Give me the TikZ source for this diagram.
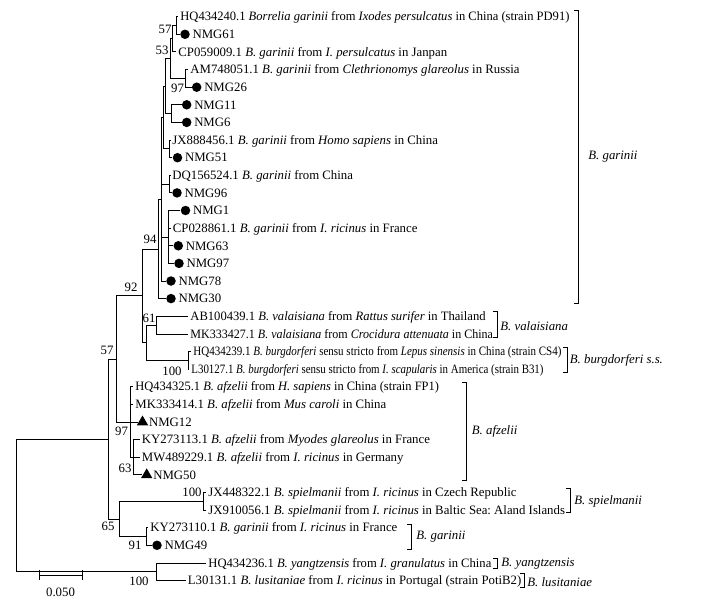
\documentclass[tikz,border=0pt]{standalone}
\usepackage{fontspec}
\usepackage{graphicx}
\setmainfont{Liberation Serif}
\frenchspacing
\usetikzlibrary{positioning,shapes.geometric}
\begin{document}
\begin{tikzpicture}[
    x=1bp, y=-1bp, line width=0.8bp,
    leaf/.style={anchor=west, inner xsep=2bp, inner ysep=0pt, text height=8.5bp, text depth=0pt, font=\fontsize{12.8bp}{15bp}\selectfont},
    dot/.style={circle, fill, inner sep=0pt, minimum size=9.5bp},
    tri/.style={regular polygon, regular polygon sides=3, fill, inner sep=0pt, minimum size=13bp},
    boot/.style={inner sep=0pt, font=\fontsize{12.8bp}{15bp}\selectfont},
    clade/.style={anchor=west, inner sep=0pt, font=\fontsize{12.8bp}{15bp}\selectfont\itshape}
]
    \useasboundingbox (0,0) rectangle (727,602);

    % Leaves
    \node[leaf] (l1) at (178,16.7) {\scalebox{0.98}[1]{HQ434240.1 \textit{Borrelia garinii} from \textit{Ixodes persulcatus} in China (strain PD91)}};
    \node[dot] (m2) at (185,34.3) {};
    \node[leaf, right=0pt of m2] (l2) {NMG61};
    \node[leaf] (l3) at (176,51.9) {CP059009.1 \textit{B. garinii} from \textit{I. persulcatus} in Janpan};
    \node[leaf] (l4) at (188,69.6) {AM748051.1 \textit{B. garinii} from \textit{Clethrionomys glareolus} in Russia};
    \node[dot] (m5) at (196.7,87.2) {};
    \node[leaf, right=0pt of m5] (l5) {NMG26};
    \node[dot] (m6) at (186.7,104.8) {};
    \node[leaf, right=0pt of m6] (l6) {NMG11};
    \node[dot] (m7) at (186.7,122.4) {};
    \node[leaf, right=0pt of m7] (l7) {NMG6};
    \node[leaf] (l8) at (170,140.0) {JX888456.1 \textit{B. garinii} from \textit{Homo sapiens} in China};
    \node[dot] (m9) at (177.5,157.7) {};
    \node[leaf, right=0pt of m9] (l9) {NMG51};
    \node[leaf] (l10) at (170,175.3) {DQ156524.1 \textit{B. garinii} from China};
    \node[dot] (m11) at (177,192.9) {};
    \node[leaf, right=0pt of m11] (l11) {NMG96};
    \node[dot] (m12) at (185.5,210.5) {};
    \node[leaf, right=0pt of m12] (l12) {NMG1};
    \node[leaf] (l13) at (170.5,228.1) {CP028861.1 \textit{B. garinii} from \textit{I. ricinus} in France};
    \node[dot] (m14) at (178.3,245.8) {};
    \node[leaf, right=0pt of m14] (l14) {NMG63};
    \node[dot] (m15) at (179,263.4) {};
    \node[leaf, right=0pt of m15] (l15) {NMG97};
    \node[dot] (m16) at (171,281.0) {};
    \node[leaf, right=0pt of m16] (l16) {NMG78};
    \node[dot] (m17) at (171,298.6) {};
    \node[leaf, right=0pt of m17] (l17) {NMG30};
    \node[leaf] (l18) at (188,316.2) {\scalebox{0.985}[1]{AB100439.1 \textit{B. valaisiana} from \textit{Rattus surifer} in Thailand}};
    \node[leaf] (l19) at (188,333.9) {\scalebox{0.94}[1]{MK333427.1 \textit{B. valaisiana} from \textit{Crocidura attenuata} in China}};
    \node[leaf] (l20) at (191,351.5) {\scalebox{0.86}[1]{HQ434239.1 \textit{B. burgdorferi} sensu stricto from \textit{Lepus sinensis} in China (strain CS4)}};
    \node[leaf] (l21) at (189,369.1) {\scalebox{0.852}[1]{L30127.1 \textit{B. burgdorferi} sensu stricto from \textit{I. scapularis} in America (strain B31)}};
    \node[leaf] (l22) at (133,386.7) {\scalebox{0.975}[1]{HQ434325.1 \textit{B. afzelii} from \textit{H. sapiens} in China (strain FP1)}};
    \node[leaf] (l23) at (133,404.3) {MK333414.1 \textit{B. afzelii} from \textit{Mus caroli} in China};
    \node[tri] (m24) at (142.5,422.0) {};
    \node[leaf, right=0pt of m24] (l24) {NMG12};
    \node[leaf] (l25) at (139.5,439.6) {KY273113.1 \textit{B. afzelii} from \textit{Myodes glareolus} in France};
    \node[leaf] (l26) at (139.5,457.2) {MW489229.1 \textit{B. afzelii} from \textit{I. ricinus} in Germany};
    \node[tri] (m27) at (146.7,474.8) {};
    \node[leaf, right=0pt of m27] (l27) {NMG50};
    \node[leaf] (l28) at (206,492.4) {JX448322.1 \textit{B. spielmanii} from \textit{I. ricinus} in Czech Republic};
    \node[leaf] (l29) at (206,510.0) {JX910056.1 \textit{B. spielmanii} from \textit{I. ricinus} in Baltic Sea: Aland Islands};
    \node[leaf] (l30) at (148,527.7) {KY273110.1 \textit{B. garinii} from \textit{I. ricinus} in France};
    \node[dot] (m31) at (157,545.3) {};
    \node[leaf, right=0pt of m31] (l31) {NMG49};
    \node[leaf] (l32) at (206,562.9) {\scalebox{0.985}[1]{HQ434236.1 \textit{B. yangtzensis} from \textit{I. granulatus} in China}};
    \node[leaf] (l33) at (185.5,580.5) {L30131.1 \textit{B. lusitaniae} from \textit{I. ricinus} in Portugal (strain PotiB2)};

    % Internal nodes
    \coordinate (n57) at (176,25.5);
    \coordinate (n53) at (172.7,38.7);
    \coordinate (n97g) at (185.5,78.4);
    \coordinate (na) at (170.3,58.5);
    \coordinate (n116) at (171.7,113.6);
    \coordinate (nb) at (165.5,86);
    \coordinate (njx) at (169.5,148.9);
    \coordinate (nc) at (163.3,117.4);
    \coordinate (ndq) at (169.5,184.1);
    \coordinate (ncp) at (168.3,237);
    \coordinate (nd) at (161,199.2);
    \coordinate (n94) at (158.3,248.9);
    \coordinate (n61) at (156.7,325);
    \coordinate (nbs) at (188,360.3);
    \coordinate (nvb) at (146.7,342.7);
    \coordinate (n92) at (142.7,295.8);
    \coordinate (n63) at (133.3,457.2);
    \coordinate (n97a) at (130,421.9);
    \coordinate (n57b) at (116,358.9);
    \coordinate (nsp) at (203.3,501.2);
    \coordinate (n91) at (146.7,536.5);
    \coordinate (n65) at (119.3,518.9);
    \coordinate (n108) at (108,438.9);
    \coordinate (ny) at (156.7,571.7);
    \coordinate (root) at (16,505.3);

    % Branches
    \draw (n57) |- (l1); \draw (n57) |- (m2);
    \draw (n53) |- (n57); \draw (n53) |- (l3);
    \draw (n97g) |- (l4); \draw (n97g) |- (m5);
    \draw (na) |- (n53); \draw (na) |- (n97g);
    \draw (n116) |- (m6); \draw (n116) |- (m7);
    \draw (nb) |- (na); \draw (nb) |- (n116);
    \draw (njx) |- (l8); \draw (njx) |- (m9);
    \draw (nc) |- (nb); \draw (nc) |- (njx);
    \draw (ndq) |- (l10); \draw (ndq) |- (m11);
    \draw (ncp) |- (m12); \draw (ncp) |- (l13); \draw (ncp) |- (m14); \draw (ncp) |- (m15);
    \draw (nd) |- (nc); \draw (nd) |- (ndq); \draw (nd) |- (ncp); \draw (nd) |- (m16);
    \draw (n94) |- (nd); \draw (n94) |- (m17);
    \draw (n61) |- (l18); \draw (n61) |- (l19);
    \draw (nbs) |- (l20); \draw (nbs) |- (l21);
    \draw (nvb) |- (n61); \draw (nvb) |- (nbs);
    \draw (n92) |- (n94); \draw (n92) |- (nvb);
    \draw (n63) |- (l25); \draw (n63) |- (l26); \draw (n63) |- (m27);
    \draw (n97a) |- (l22); \draw (n97a) |- (l23); \draw (n97a) |- (m24); \draw (n97a) |- (n63);
    \draw (n57b) |- (n92); \draw (n57b) |- (n97a);
    \draw (nsp) |- (l28); \draw (nsp) |- (l29);
    \draw (n91) |- (l30); \draw (n91) |- (m31);
    \draw (n65) |- (nsp); \draw (n65) |- (n91);
    \draw (n108) |- (n57b); \draw (n108) |- (n65);
    \draw (ny) |- (l32); \draw (ny) |- (l33);
    \draw (root) |- (n108); \draw (root) |- (ny);

    % Bootstrap values
    \node[boot] (b1) at (165,29) {57};
    \node[boot] (b2) at (162,50) {53};
    \node[boot] (b3) at (177.5,88) {97};
    \node[boot] (b4) at (150,239) {94};
    \node[boot] (b5) at (131,287) {92};
    \node[boot] (b6) at (149,318) {61};
    \node[boot] (b7) at (172,371) {100};
    \node[boot] (b8) at (107,350) {57};
    \node[boot] (b9) at (121.5,431) {97};
    \node[boot] (b10) at (125,468) {63};
    \node[boot] (b11) at (108,526) {65};
    \node[boot] (b12) at (192,492.5) {100};
    \node[boot] (b13) at (135,545) {91};
    \node[boot] (b14) at (139,581) {100};

    % Clade brackets
    \draw (574,10) -- (578,10) -- (578,303) -- (574,303);
    \node[clade] (c1) at (588,157) {B. garinii};
    \draw (493,311) -- (497,311) -- (497,337) -- (493,337);
    \node[clade] (c2) at (500,326) {B. valaisiana};
    \draw (563,347) -- (567,347) -- (567,372) -- (563,372);
    \node[clade] (c3) at (569.5,360) {B. burgdorferi s.s.};
    \draw (462,382) -- (466,382) -- (466,480) -- (462,480);
    \node[clade] (c4) at (471.5,431) {B. afzelii};
    \draw (566,488) -- (570,488) -- (570,512) -- (566,512);
    \node[clade] (c5) at (574,501) {B. spielmanii};
    \draw (407,524) -- (411,524) -- (411,549) -- (407,549);
    \node[clade] (c6) at (416,537) {B. garinii};
    \draw (493,558) -- (497,558) -- (497,568) -- (493,568);
    \node[clade] (c7) at (501,564) {B. yangtzensis};
    \draw (520,573) -- (524,573) -- (524,587) -- (520,587);
    \node[clade] (c8) at (527,582) {B. lusitaniae};

    % Scale bar
    \coordinate (s0) at (39,575);
    \coordinate (s1) at (82,575);
    \draw (s0) -- (s1);
    \draw ([yshift=5bp]s0) -- ([yshift=-5bp]s0);
    \draw ([yshift=5bp]s1) -- ([yshift=-5bp]s1);
    \node[boot] (sl) at (60.5,592) {0.050};
\end{tikzpicture}
\end{document}
